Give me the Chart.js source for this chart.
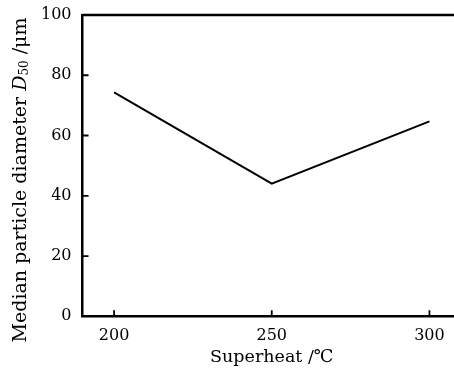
<!DOCTYPE html>
<html>
<head>
<meta charset="utf-8">
<script src="https://cdn.jsdelivr.net/npm/chart.js@4"></script>
<style>
  html, body { margin: 0; padding: 0; background: #fff; overflow: hidden; }
  #wrap { width: 461px; height: 374px; }
</style>
</head>
<body>
<div id="wrap"><canvas id="c" width="461" height="374"></canvas></div>
<script>
// --- DATA ---
const superheat = [200, 250, 300];
const d50 = [74.3, 44, 64.7];
const xTicks = [200, 250, 300];
const yTicks = [0, 20, 40, 60, 80, 100];

const FONT = "'DejaVu Serif', 'Liberation Serif', serif";

// inward tick marks + top border
const frame = {
  id: 'frame',
  afterDraw(chart) {
    const ctx = chart.ctx, a = chart.chartArea;
    const xs = chart.scales.x, ys = chart.scales.y;
    ctx.save();
    ctx.strokeStyle = '#000';
    ctx.lineWidth = 2.5;
    ctx.beginPath();
    ctx.moveTo(a.left, a.top); ctx.lineTo(a.right, a.top);
    ctx.lineTo(a.right, a.bottom);
    ctx.stroke();
    ctx.lineWidth = 1.8;
    ctx.beginPath();
    xs.ticks.forEach(t => {
      const px = xs.getPixelForValue(t.value);
      ctx.moveTo(px, a.bottom); ctx.lineTo(px, a.bottom - 6);
    });
    ys.ticks.forEach(t => {
      if (t.value === 0 || t.value === 100) return;
      const py = ys.getPixelForValue(t.value);
      ctx.moveTo(a.left, py); ctx.lineTo(a.left + 6, py);
    });
    ctx.stroke();
    ctx.restore();
  }
};

// y title with italic D and subscript 50
const yTitle = {
  id: 'yTitle',
  afterDraw(chart) {
    const ctx = chart.ctx;
    const parts = [
      ['Median particle diameter ', 'normal 19px ' + FONT, 0],
      ['D', 'italic 19px ' + FONT, 0],
      ['50', 'normal 12px ' + FONT, 4],
      [' /μm', 'normal 19px ' + FONT, 0]
    ];
    ctx.save();
    let total = 0;
    parts.forEach(p => { ctx.font = p[1]; total += ctx.measureText(p[0]).width; });
    ctx.translate(21, 180);
    ctx.rotate(-Math.PI / 2);
    ctx.fillStyle = '#000';
    ctx.textBaseline = 'middle';
    let x = -total / 2;
    parts.forEach(p => {
      ctx.font = p[1];
      ctx.fillText(p[0], x, p[2]);
      x += ctx.measureText(p[0]).width;
    });
    ctx.restore();
  }
};

new Chart(document.getElementById('c'), {
  type: 'line',
  data: {
    datasets: [{
      data: superheat.map((x, i) => ({ x: x, y: d50[i] })),
      borderColor: '#000',
      borderWidth: 2,
      pointRadius: 0,
      tension: 0
    }]
  },
  options: {
    responsive: false,
    animation: false,
    layout: { padding: { top: 14, right: 0, bottom: 8, left: 30 } },
    plugins: { legend: { display: false }, tooltip: { enabled: false } },
    scales: {
      x: {
        type: 'linear',
        min: 190, max: 310,
        afterBuildTicks: s => { s.ticks = xTicks.map(v => ({ value: v })); },
        grid: { display: false, drawTicks: false },
        border: { color: '#000', width: 2.5 },
        ticks: { color: '#000', font: { family: FONT, size: 16 }, padding: 9.5 },
        title: { display: true, text: 'Superheat /℃', color: '#000', font: { family: FONT, size: 17.5, lineHeight: 1 }, padding: { top: -6, bottom: 0 } }
      },
      y: {
        min: 0, max: 100,
        afterBuildTicks: s => { s.ticks = yTicks.map(v => ({ value: v })); },
        grid: { display: false, drawTicks: false },
        border: { color: '#000', width: 2.5 },
        ticks: { color: '#000', font: { family: FONT, size: 16, lineHeight: 0.5 }, padding: 11 },
        title: { display: false }
      }
    }
  },
  plugins: [frame, yTitle]
});
</script>
</body>
</html>
